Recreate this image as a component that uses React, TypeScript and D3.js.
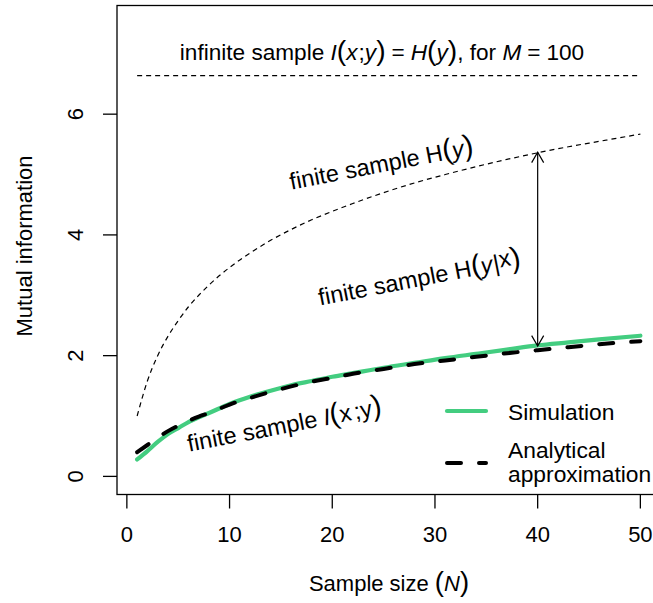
import React from "react";
import * as d3 from "d3";

// Sample sizes at which values were read
const sampleN = [1, 2, 3, 4, 5, 6, 7, 8, 10, 12, 14, 16, 18, 20, 22, 25, 28, 31, 34, 37, 40, 43, 46, 50];
// Simulation (green)
const simulation = [0.28, 0.42, 0.57, 0.7, 0.8, 0.9, 0.98, 1.05, 1.2, 1.32, 1.42, 1.51, 1.58, 1.65, 1.71, 1.8, 1.88, 1.96, 2.03, 2.1, 2.17, 2.22, 2.27, 2.33];
// Analytical approximation (black dashed)
const analytical = [0.4, 0.52, 0.64, 0.75, 0.84, 0.92, 0.99, 1.05, 1.19, 1.3, 1.4, 1.49, 1.57, 1.63, 1.7, 1.78, 1.86, 1.92, 1.98, 2.04, 2.09, 2.14, 2.19, 2.24];
// Finite sample H(y) (thin dashed)
const finiteH = [1.0, 1.58, 2.0, 2.32, 2.58, 2.81, 3.0, 3.17, 3.46, 3.7, 3.91, 4.09, 4.25, 4.39, 4.52, 4.7, 4.86, 5.0, 5.13, 5.25, 5.36, 5.46, 5.55, 5.67];
// Infinite sample level
const infiniteLevel = 6.64;
const infiniteRange = [1, 50];
// Arrow at N = 40
const arrowN = 40;
const arrowFrom = 2.16;
const arrowTo = 5.37;

const xTicks = [0, 10, 20, 30, 40, 50];
const yTicks = [0, 2, 4, 6];

const W = 653;
const H = 603;
const FONT = "'Liberation Sans', Arial, Helvetica, sans-serif";
const FS = 22;
const FS_TOP = 22.6;
const FS_ANN = 23.5;
const FS_LEG = 22.8;
const GREEN = "#43CD80";

export default function App() {
  const x = d3.scaleLinear().domain([-0.96, 51.96]).range([117, 660.5]);
  const y = d3.scaleLinear().domain([-0.3, 7.8]).range([494.5, 5.5]);

  const line = d3
    .line<[number, number]>()
    .x((d) => x(d[0]))
    .y((d) => y(d[1]))
    .curve(d3.curveMonotoneX);

  const simPath = line(sampleN.map((n, i) => [n, simulation[i]]))!;
  const anaPath = line(sampleN.map((n, i) => [n, analytical[i]]))!;
  const hPath = line(sampleN.map((n, i) => [n, finiteH[i]]))!;

  const ax = x(arrowN);
  const a1 = y(arrowFrom);
  const a2 = y(arrowTo);
  const ah = 12;
  const ang = (30 * Math.PI) / 180;
  const hx = ah * Math.sin(ang);
  const hy = ah * Math.cos(ang);

  const paren = { fontSize: "1.25em" } as React.CSSProperties;

  return (
    <svg
      width={W}
      height={H}
      style={{ position: "absolute", left: 0, top: 0, background: "#fff" }}
      fontFamily={FONT}
      fontSize={FS}
    >
      <rect x={0} y={0} width={W} height={H} fill="#fff" />
      {/* box */}
      <rect x={x(-0.96)} y={y(7.8)} width={x(51.96) - x(-0.96)} height={y(-0.3) - y(7.8)} fill="none" stroke="#000" strokeWidth={1.3} />

      {/* x axis ticks */}
      {xTicks.map((t) => (
        <g key={"xt" + t}>
          <line x1={x(t)} x2={x(t)} y1={y(-0.3)} y2={y(-0.3) + 14} stroke="#000" strokeWidth={1.3} />
          <text x={x(t)} y={542} textAnchor="middle" fill="#000">
            {t}
          </text>
        </g>
      ))}
      {/* y axis ticks */}
      {yTicks.map((t) => (
        <g key={"yt" + t}>
          <line x1={x(-0.96) - 14} x2={x(-0.96)} y1={y(t)} y2={y(t)} stroke="#000" strokeWidth={1.3} />
          <text transform={`translate(83,${y(t)}) rotate(-90)`} textAnchor="middle" fill="#000">
            {t}
          </text>
        </g>
      ))}

      {/* axis titles */}
      <text x={389} y={591} textAnchor="middle" fill="#000">
        Sample size <tspan style={paren}>(</tspan>
        <tspan fontStyle="italic">N</tspan>
        <tspan style={paren}>)</tspan>
      </text>
      <text transform={`translate(32,246) rotate(-90)`} textAnchor="middle" fill="#000">
        Mutual information
      </text>

      {/* infinite sample line */}
      <line
        x1={x(infiniteRange[0])}
        x2={x(infiniteRange[1])}
        y1={y(infiniteLevel)}
        y2={y(infiniteLevel)}
        stroke="#000"
        strokeWidth={1.2}
        strokeDasharray="5,4"
      />
      <text x={382} y={60} textAnchor="middle" fill="#000" fontSize={FS_TOP}>
        infinite sample <tspan fontStyle="italic">I</tspan>
        <tspan style={paren}>(</tspan>
        <tspan fontStyle="italic">x</tspan>
        <tspan dx={1}>;</tspan>
        <tspan fontStyle="italic">y</tspan>
        <tspan style={paren}>)</tspan>
        <tspan dx={6}>=</tspan>
        <tspan dx={6} fontStyle="italic">H</tspan>
        <tspan style={paren}>(</tspan>
        <tspan fontStyle="italic">y</tspan>
        <tspan style={paren}>)</tspan>, for <tspan fontStyle="italic">M</tspan>
        <tspan dx={6}>=</tspan>
        <tspan dx={6}>100</tspan>
      </text>

      {/* finite sample H(y) */}
      <path d={hPath} fill="none" stroke="#000" strokeWidth={1.2} strokeDasharray="5,4" />

      {/* curves */}
      <path d={simPath} fill="none" stroke={GREEN} strokeWidth={4.2} strokeLinecap="round" />
      <path d={anaPath} fill="none" stroke="#000" strokeWidth={4} strokeDasharray="14,18" strokeLinecap="round" />

      {/* arrow */}
      <g stroke="#000" strokeWidth={1.2} fill="none">
        <line x1={ax} x2={ax} y1={a1} y2={a2} />
        <polyline points={`${ax - hx},${a2 + hy} ${ax},${a2} ${ax + hx},${a2 + hy}`} />
        <polyline points={`${ax - hx},${a1 - hy} ${ax},${a1} ${ax + hx},${a1 - hy}`} />
      </g>

      {/* annotations */}
      <g fontSize={FS_ANN}>
        <text transform="translate(383,172) rotate(-11)" textAnchor="middle" fill="#000">
          finite sample H<tspan style={paren}>(</tspan>
          <tspan fontStyle="italic">y</tspan>
          <tspan style={paren}>)</tspan>
        </text>
        <text transform="translate(421,286) rotate(-11)" textAnchor="middle" fill="#000">
          finite sample H<tspan style={paren}>(</tspan>
          <tspan fontStyle="italic">y</tspan>
          <tspan dx={1}>|</tspan>
          <tspan dy={-3}>x</tspan>
          <tspan dy={3} style={paren}>)</tspan>
        </text>
        <text transform="translate(286,433) rotate(-11)" textAnchor="middle" fill="#000">
          finite sample <tspan fontStyle="italic">I</tspan>
          <tspan style={paren}>(</tspan>x<tspan dx={3}>;</tspan>y<tspan style={paren}>)</tspan>
        </text>
      </g>

      {/* legend */}
      <g fontSize={FS_LEG}>
        <line x1={447} x2={486} y1={411} y2={411} stroke={GREEN} strokeWidth={4.2} strokeLinecap="round" />
        <text x={508} y={420} fill="#000">
          Simulation
        </text>
        <line x1={447} x2={486} y1={463} y2={463} stroke="#000" strokeWidth={4} strokeDasharray="14,18" strokeLinecap="round" />
        <text x={508} y={458} fill="#000">
          Analytical
        </text>
        <text x={508} y={482} fill="#000">
          approximation
        </text>
      </g>
    </svg>
  );
}
